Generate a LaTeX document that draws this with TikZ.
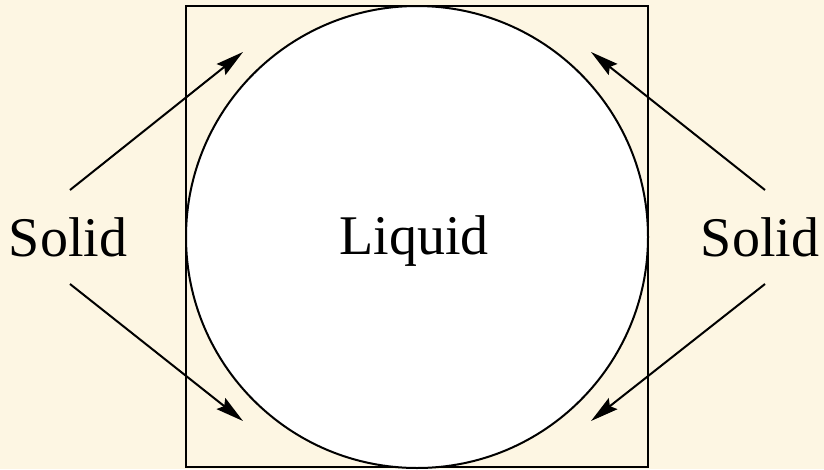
\documentclass[tikz,border=0pt]{standalone}
\usepackage{fontspec}
\setmainfont{Liberation Serif}
\usetikzlibrary{arrows.meta}
\definecolor{bg}{HTML}{FDF6E3}
\begin{document}
\begin{tikzpicture}[x=1pt,y=-1pt,
  lbl/.style={font=\fontsize{56}{60}\selectfont, inner sep=0pt, anchor=base},
  arr/.style={line width=2pt, -{Stealth[length=28pt,width=14pt,inset=4pt]}}]
\fill[bg] (0,0) rectangle (824,469);
\useasboundingbox (0,0) rectangle (824,469);
\draw[line width=2pt] (186,6) rectangle (648,467);
\node[circle, draw, line width=2pt, fill=white, minimum size=462pt, inner sep=0pt] (circ) at (417,237) {};
\node[lbl] (liq) at (414,254) {Liquid};
\node[lbl] (sl) at (68,256) {Solid};
\node[lbl] (sr) at (760,256) {Solid};
\coordinate (sl1) at (70,190);
\coordinate (sl2) at (70,284);
\coordinate (sr1) at (765,190);
\coordinate (sr2) at (765,284);
\coordinate (tl) at (243,52);
\coordinate (bl) at (243,421);
\coordinate (tr) at (591,52);
\coordinate (br) at (591,421);
\draw[arr] (sl1) -- (tl);
\draw[arr] (sl2) -- (bl);
\draw[arr] (sr1) -- (tr);
\draw[arr] (sr2) -- (br);
\end{tikzpicture}
\end{document}
